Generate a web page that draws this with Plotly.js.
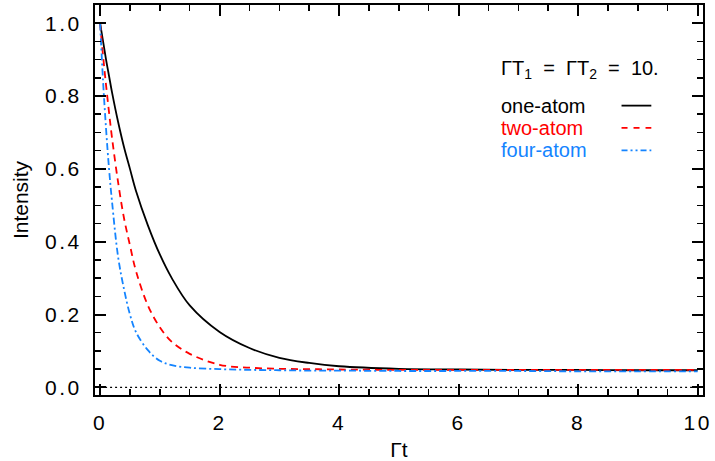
<!DOCTYPE html>
<html>
<head>
<meta charset="utf-8">
<script src="https://cdn.plot.ly/plotly-3.0.1.min.js"></script>
<style>
html,body{margin:0;padding:0;background:#fff;}
#chart{width:715px;height:461px;}
#chart .xtick text, #chart .ytick text{letter-spacing:2.5px;}
</style>
</head>
<body>
<div id="chart"></div>
<script>
// Γt sample positions
const gammaT = [0, 0.05, 0.1, 0.15, 0.2, 0.3, 0.4, 0.5, 0.6, 0.8, 1.0, 1.2, 1.5, 2.0, 2.5, 3.0, 3.5, 4.0, 5.0, 6.0, 7.0, 8.0, 9.0, 10.0];
// intensities
const oneAtom  = [1.0, 0.95, 0.90, 0.855, 0.81, 0.73, 0.66, 0.60, 0.54, 0.445, 0.365, 0.30, 0.225, 0.152, 0.108, 0.081, 0.067, 0.058, 0.051, 0.049, 0.048, 0.048, 0.047, 0.047];
const twoAtom  = [1.0, 0.91, 0.83, 0.755, 0.685, 0.565, 0.465, 0.39, 0.32, 0.225, 0.165, 0.125, 0.092, 0.062, 0.054, 0.051, 0.050, 0.049, 0.048, 0.048, 0.048, 0.048, 0.048, 0.048];
const fourAtom = [1.0, 0.84, 0.71, 0.60, 0.51, 0.36, 0.27, 0.20, 0.152, 0.102, 0.073, 0.061, 0.054, 0.050, 0.048, 0.047, 0.046, 0.046, 0.045, 0.045, 0.045, 0.044, 0.044, 0.044];
const zeroLineX = [0, 10];
const zeroLineY = [0, 0];
const xTicks = [0, 2, 4, 6, 8, 10];
const yTicks = [0.0, 0.2, 0.4, 0.6, 0.8, 1.0];
const yTickText = ['0.0', '0.2', '0.4', '0.6', '0.8', '1.0'];
const seriesNames = ['one-atom', 'two-atom', 'four-atom'];
const headerText = 'ΓT<sub>1</sub>\u00A0\u00A0=\u00A0\u00A0ΓT<sub>2</sub>\u00A0\u00A0=\u00A0\u00A010.';

const black = '#000000', red = '#ff0000', blue = '#1484ff';
const font = 'Liberation Sans, Arial, sans-serif';

const traces = [
  {x: zeroLineX, y: zeroLineY, mode: 'lines', line: {color: black, width: 1.3, dash: '2px,3px'}, hoverinfo: 'skip'},
  {x: gammaT, y: oneAtom, mode: 'lines', name: seriesNames[0], line: {color: black, width: 1.8, shape: 'spline'}},
  {x: gammaT, y: twoAtom, mode: 'lines', name: seriesNames[1], line: {color: red, width: 1.8, dash: '7px,5px', shape: 'spline'}},
  {x: gammaT, y: fourAtom, mode: 'lines', name: seriesNames[2], line: {color: blue, width: 1.8, dash: '7px,3px,2px,3px', shape: 'spline'}}
];

const axisCommon = {
  showline: true, linecolor: black, linewidth: 2, mirror: 'allticks',
  ticks: 'inside', ticklen: 11, tickwidth: 2, tickcolor: black,
  showgrid: false, zeroline: false,
  tickfont: {family: font, size: 21, color: black}
};

const layout = {
  width: 715, height: 461,
  margin: {l: 95, r: 12, t: 5, b: 66},
  paper_bgcolor: '#fff', plot_bgcolor: '#fff',
  showlegend: false,
  xaxis: Object.assign({}, axisCommon, {
    range: [-0.085, 10.09], tickvals: xTicks, ticktext: xTicks.map(String),
    minor: {dtick: 0.5, ticks: 'inside', ticklen: 6, tickwidth: 1.5, tickcolor: black},
    ticklabelstandoff: 8,
    title: {text: 'Γt', font: {family: font, size: 21, color: black}, standoff: 10}
  }),
  yaxis: Object.assign({}, axisCommon, {
    range: [-0.021, 1.05], tickvals: yTicks, ticktext: yTickText,
    minor: {dtick: 0.05, ticks: 'inside', ticklen: 6, tickwidth: 1.5, tickcolor: black},
    ticklabelstandoff: 7,
    title: {text: 'Intensity', font: {family: font, size: 21, color: black}, standoff: 18}
  }),
  annotations: [
    {xref: 'paper', yref: 'paper', x: 0.664, y: 0.835, xanchor: 'left', yanchor: 'middle', align: 'left', showarrow: false, text: headerText, font: {family: font, size: 20, color: black}},
    {xref: 'paper', yref: 'paper', x: 0.664, y: 0.742, xanchor: 'left', yanchor: 'middle', align: 'left', showarrow: false, text: seriesNames[0], font: {family: font, size: 20, color: black}},
    {xref: 'paper', yref: 'paper', x: 0.664, y: 0.685, xanchor: 'left', yanchor: 'middle', align: 'left', showarrow: false, text: seriesNames[1], font: {family: font, size: 20, color: red}},
    {xref: 'paper', yref: 'paper', x: 0.664, y: 0.627, xanchor: 'left', yanchor: 'middle', align: 'left', showarrow: false, text: seriesNames[2], font: {family: font, size: 20, color: blue}}
  ],
  shapes: [
    {type: 'line', xref: 'paper', yref: 'paper', x0: 0.866, x1: 0.915, y0: 0.742, y1: 0.742, line: {color: black, width: 1.8}},
    {type: 'line', xref: 'paper', yref: 'paper', x0: 0.866, x1: 0.915, y0: 0.685, y1: 0.685, line: {color: red, width: 1.8, dash: '6px,6px'}},
    {type: 'line', xref: 'paper', yref: 'paper', x0: 0.866, x1: 0.915, y0: 0.627, y1: 0.627, line: {color: blue, width: 1.8, dash: '6px,3px,2px,3px,2px,3px'}}
  ]
};

Plotly.newPlot('chart', traces, layout, {displayModeBar: false, staticPlot: true});
</script>
</body>
</html>
